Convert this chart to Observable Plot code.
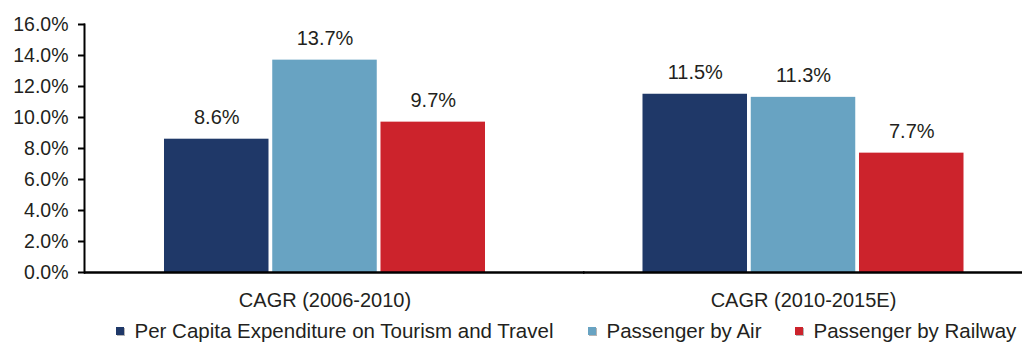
<!DOCTYPE html>
<html>
<head>
<meta charset="utf-8">
<script src="https://cdn.jsdelivr.net/npm/d3@7"></script>
<script src="https://cdn.jsdelivr.net/npm/@observablehq/plot@0.6"></script>
<style>
  body { margin: 0; background: #fff; font-family: "Liberation Sans", Arial, Helvetica, sans-serif; overflow: hidden; }
  #legend { position: relative; height: 24px; margin-top: 3px; font-size: 20.5px; line-height: 24px; color: #231f20; }
  #legend .item { position: absolute; top: 0; display: flex; align-items: center; white-space: nowrap; }
  #legend .sw { width: 8px; height: 8px; margin-right: 10.5px; box-shadow: 1px 1px 0 #b5b5b5; }
</style>
</head>
<body>
<div id="chart"></div>
<div id="legend"></div>
<script>
// ---- data ----
const periods = ["CAGR (2006-2010)", "CAGR (2010-2015E)"];
const series = ["Per Capita Expenditure on Tourism and Travel", "Passenger by Air", "Passenger by Railway"];
const colors = ["#1f3868", "#68a3c2", "#cc232c"];
const perCapita = [8.6, 11.5];
const byAir = [13.7, 11.3];
const byRailway = [9.7, 7.7];
const yTicks = [0, 2, 4, 6, 8, 10, 12, 14, 16];
const legendLeft = [116, 588, 795];

const valuesBySeries = [perCapita, byAir, byRailway];
const rows = periods.flatMap((p, i) => series.map((s, j) => ({period: p, series: s, value: valuesBySeries[j][i]})));
const pct = d => d.toFixed(1) + "%";
const textColor = "#231f20";

const chart = Plot.plot({
  width: 1026,
  height: 316,
  marginLeft: 85,
  marginRight: 4,
  marginTop: 24,
  marginBottom: 44,
  style: {fontFamily: '"Liberation Sans", Arial, Helvetica, sans-serif', fontSize: "20px", color: textColor, background: "white"},
  fx: {domain: periods, paddingInner: 0.08464, paddingOuter: 0.02142, align: 1, round: false, label: null},
  x: {domain: series, paddingInner: 0.0346, paddingOuter: 0.5404, align: 0.5, round: false, axis: null},
  y: {domain: [0, 16], label: null},
  color: {domain: series, range: colors},
  marks: [
    Plot.barY(rows, {fx: "period", x: "series", y: "value", fill: "series"}),
    Plot.text(rows, {fx: "period", x: "series", y: "value", text: d => pct(d.value), dy: -22, lineAnchor: "middle", fill: textColor, fontSize: 20}),
    Plot.axisY({ticks: yTicks, tickFormat: pct, tickSize: 7, tickPadding: 10, dx: -20.5, fontSize: 19.5, stroke: "black", strokeWidth: 2, label: null}),
    Plot.axisFx({anchor: "bottom", tickSize: 0, tickPadding: 20, fontSize: 20, label: null}),
    Plot.ruleY([0], {fx: [periods[0]], insetLeft: -21.5, insetRight: -41, stroke: "black", strokeWidth: 2.5}),
    Plot.ruleY([0], {fx: [periods[1]], insetLeft: -1, stroke: "black", strokeWidth: 2.5}),
    Plot.frame({anchor: "left", fx: [periods[0]], insetLeft: -21.5, stroke: "black", strokeWidth: 2})
  ]
});
document.getElementById("chart").appendChild(chart);

const legend = document.getElementById("legend");
series.forEach((s, i) => {
  const item = document.createElement("div");
  item.className = "item";
  item.style.left = legendLeft[i] + "px";
  const sw = document.createElement("span");
  sw.className = "sw";
  sw.style.background = colors[i];
  const label = document.createElement("span");
  label.textContent = s;
  item.appendChild(sw);
  item.appendChild(label);
  legend.appendChild(item);
});
</script>
</body>
</html>
